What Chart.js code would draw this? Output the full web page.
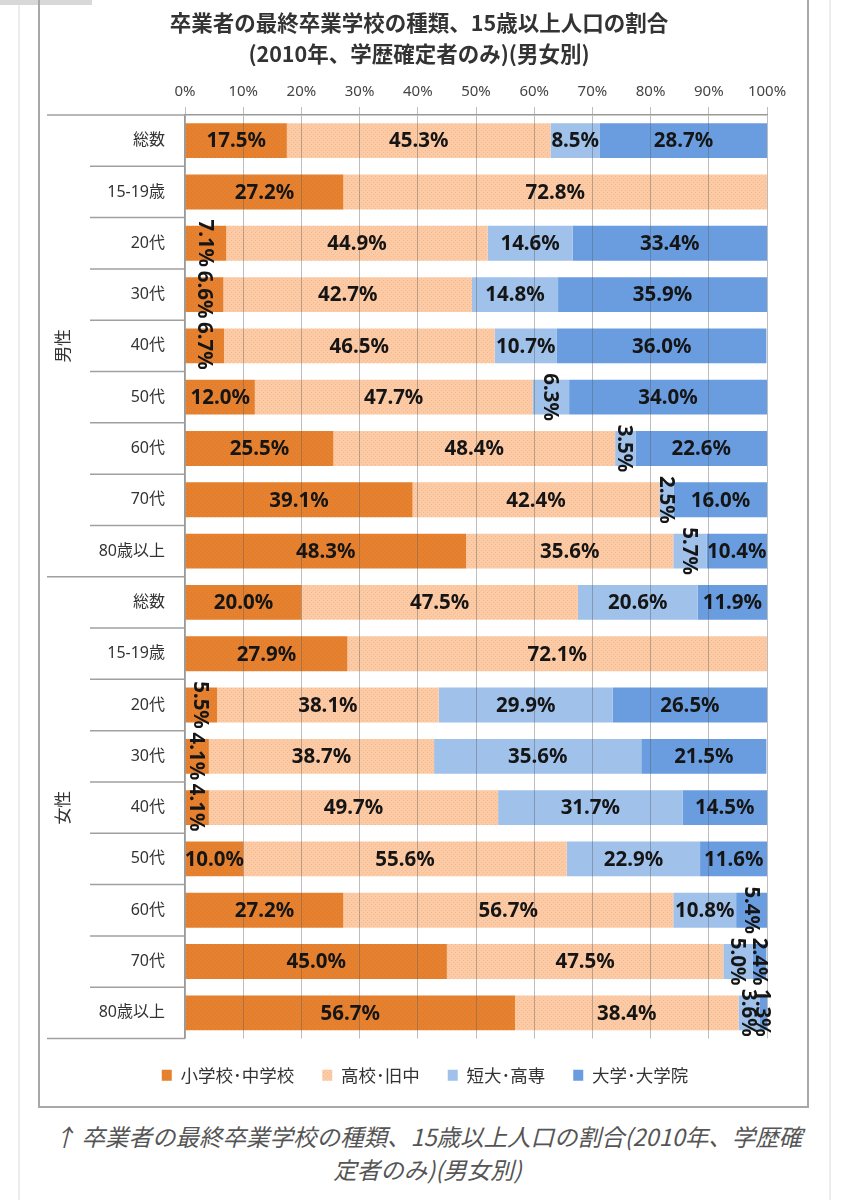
<!DOCTYPE html>
<html lang="ja">
<head>
  <meta charset="UTF-8" />
  <title>卒業者の最終卒業学校の種類</title>
  <script src="https://cdn.jsdelivr.net/npm/chart.js"></script>
  <style>
    body { margin: 0; width: 847px; height: 1200px; background: #fff; position: relative; overflow: hidden;
      font-family: 'Noto Sans', 'Noto Sans CJK JP', sans-serif; }
    .edge { position: absolute; top: 0; width: 2px; height: 1200px; background: #ececec; }
    .tab { position: absolute; left: 0; top: 0; width: 92px; height: 5px; background: #d8d8d8; }
    #wrap { position: absolute; left: 39px; top: 0; width: 769px; height: 1107px; }
    .frame { position: absolute; left: 38px; top: -2px; width: 771px; height: 1110px; border: 2px solid #a8a8a8;
      box-sizing: border-box; pointer-events: none; }
    .title { position: absolute; left: 0; top: 6px; width: 838px; text-align: center; font-size: 21.5px;
      font-weight: bold; line-height: 31px; color: #333; font-family: 'Noto Sans CJK JP', sans-serif; }
    .caption { position: absolute; left: 0; top: 1120px; width: 855px; text-align: center; font-size: 23.5px;
      font-style: italic; line-height: 33px; color: #555; font-family: 'Noto Sans CJK JP', sans-serif; }
  </style>
</head>
<body>
  <div class="edge" style="left:18px"></div>
  <div class="edge" style="left:829px"></div>
  <div class="tab"></div>
  <div id="wrap"><canvas id="eduChart"></canvas></div>
  <div class="frame"></div>
  <div class="title">卒業者の最終卒業学校の種類、15歳以上人口の割合<br>(2010年、学歴確定者のみ)(男女別)</div>
  <div class="caption">↑ 卒業者の最終卒業学校の種類、15歳以上人口の割合(2010年、学歴確<br>定者のみ)(男女別)</div>

  <script>
    const groups = ['男性', '女性'];
    const ages = ['総数', '15-19歳', '20代', '30代', '40代', '50代', '60代', '70代', '80歳以上'];
    const seriesNames = ['小学校･中学校', '高校･旧中', '短大･高専', '大学･大学院'];
    // male rows first, then female rows
    const elementary = [17.5, 27.2, 7.1, 6.6, 6.7, 12.0, 25.5, 39.1, 48.3,
                        20.0, 27.9, 5.5, 4.1, 4.1, 10.0, 27.2, 45.0, 56.7];
    const highSchool = [45.3, 72.8, 44.9, 42.7, 46.5, 47.7, 48.4, 42.4, 35.6,
                        47.5, 72.1, 38.1, 38.7, 49.7, 55.6, 56.7, 47.5, 38.4];
    const juniorCollege = [8.5, 0, 14.6, 14.8, 10.7, 6.3, 3.5, 2.5, 5.7,
                           20.6, 0, 29.9, 35.6, 31.7, 22.9, 10.8, 5.0, 3.6];
    const university = [28.7, 0, 33.4, 35.9, 36.0, 34.0, 22.6, 16.0, 10.4,
                        11.9, 0, 26.5, 21.5, 14.5, 11.6, 5.4, 2.4, 1.3];
    const xTicks = [0, 10, 20, 30, 40, 50, 60, 70, 80, 90, 100];

    const labels = groups.flatMap(() => ages);

    function dotted(base, dot) {
      const c = document.createElement('canvas');
      c.width = 4; c.height = 4;
      const g = c.getContext('2d');
      g.fillStyle = base; g.fillRect(0, 0, 4, 4);
      g.fillStyle = dot; g.fillRect(0, 0, 1, 1); g.fillRect(2, 2, 1, 1);
      return g.createPattern(c, 'repeat');
    }
    const colors = [
      dotted('#e6822f', '#dc7829'),
      dotted('#fccba5', '#f5b98f'),
      '#9fc1ea',
      '#6a9de0'
    ];

    // left side table: row separators and group names
    const tablePlugin = {
      id: 'tablePlugin',
      afterLayout(chart) {
        // legend sits a little right of centre in the original
        chart.legend.left += 22;
        chart.legend.right += 22;
      },
      afterDraw(chart) {
        const ctx = chart.ctx;
        const y = chart.scales.y;
        const left = chart.chartArea.left;
        const half = (y.getPixelForValue(1) - y.getPixelForValue(0)) / 2;
        ctx.save();
        ctx.strokeStyle = '#a0a0a0';
        ctx.lineWidth = 1.5;
        for (let i = 0; i <= labels.length; i++) {
          const py = y.getPixelForValue(0) - half + i * half * 2;
          const full = i % ages.length === 0;
          ctx.beginPath();
          ctx.moveTo(full ? 8 : 51, py);
          ctx.lineTo(left, py);
          ctx.stroke();
        }
        ctx.fillStyle = '#333';
        ctx.font = "17px 'Noto Sans CJK JP'";
        ctx.textAlign = 'center';
        ctx.textBaseline = 'middle';
        groups.forEach((g, gi) => {
          const top = y.getPixelForValue(gi * ages.length);
          const bot = y.getPixelForValue(gi * ages.length + ages.length - 1);
          ctx.save();
          ctx.translate(24, (top + bot) / 2);
          ctx.rotate(-Math.PI / 2);
          ctx.fillText(g, 0, 0);
          ctx.restore();
        });
        ctx.restore();
      }
    };

    // value labels, rotated when the segment is narrow
    const valuePlugin = {
      id: 'valuePlugin',
      afterDraw(chart) {
        const ctx = chart.ctx;
        ctx.save();
        ctx.font = "bold 20.5px 'Noto Sans'";
        ctx.fillStyle = '#151515';
        ctx.textAlign = 'center';
        ctx.textBaseline = 'middle';
        chart.data.datasets.forEach((ds, di) => {
          chart.getDatasetMeta(di).data.forEach((bar, i) => {
            const v = ds.data[i];
            if (!v) return;
            const p = bar.getProps(['x', 'y', 'base'], true);
            const cx = (p.x + p.base) / 2;
            const txt = v.toFixed(1) + '%';
            if (v < 8) {
              ctx.save();
              ctx.translate(cx, p.y);
              ctx.rotate(Math.PI / 2);
              ctx.fillText(txt, 0, 1);
              ctx.restore();
            } else {
              ctx.fillText(txt, cx, p.y + 1);
            }
          });
        });
        ctx.restore();
      }
    };

    const data = [elementary, highSchool, juniorCollege, university];

    new Chart(document.getElementById('eduChart').getContext('2d'), {
      type: 'bar',
      data: {
        labels: labels,
        datasets: seriesNames.map((name, i) => ({
          label: name,
          data: data[i],
          backgroundColor: colors[i],
          borderWidth: 0,
          barPercentage: 0.68,
          categoryPercentage: 1
        }))
      },
      options: {
        indexAxis: 'y',
        responsive: true,
        maintainAspectRatio: false,
        animation: false,
        layout: { padding: { top: 0, right: 41, bottom: 13, left: 0 } },
        scales: {
          x: {
            position: 'top',
            stacked: true,
            min: 0,
            max: 100,
            afterBuildTicks(s) { s.ticks = xTicks.map(v => ({ value: v })); },
            afterFit(s) { s.height = 115; },
            ticks: {
              callback: v => v + '%',
              color: '#444',
              padding: 6,
              font: { family: "'Noto Sans'", size: 15 }
            },
            grid: { color: 'rgba(90,90,90,0.4)', lineWidth: 1, tickLength: 8, z: 1 },
            border: { color: '#999', width: 1.5, z: 1 }
          },
          y: {
            stacked: true,
            afterFit(s) { s.width = 146; },
            grid: { display: false },
            border: { display: true, color: '#999', width: 1.5, z: 1 },
            ticks: {
              padding: 12,
              color: '#333',
              font: { family: "'Noto Sans', 'Noto Sans CJK JP'", size: 16 }
            }
          }
        },
        plugins: {
          legend: {
            position: 'bottom',
            labels: {
              boxWidth: 10,
              boxHeight: 11,
              padding: 28,
              color: '#333',
              font: { family: "'Noto Sans CJK JP'", size: 17.5 }
            }
          },
          tooltip: { enabled: false }
        }
      },
      plugins: [tablePlugin, valuePlugin]
    });
  </script>
</body>
</html>
